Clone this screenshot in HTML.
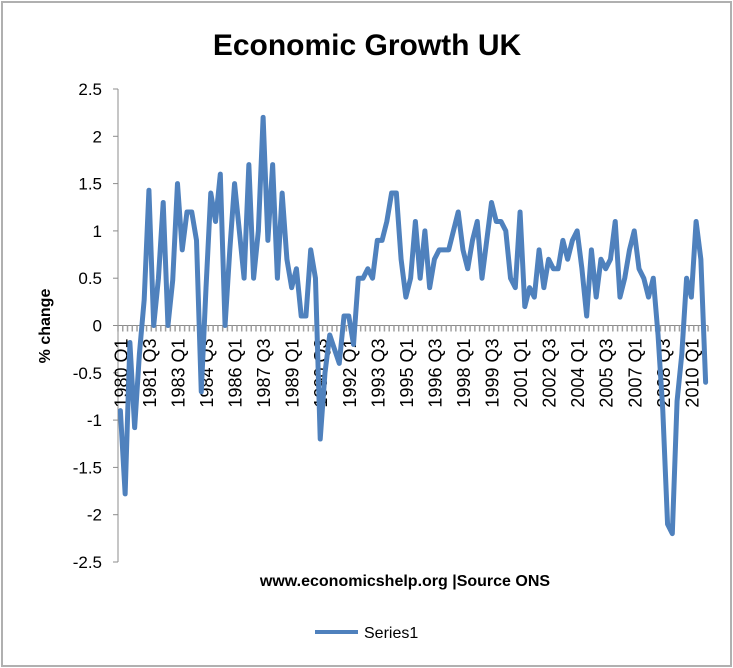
<!DOCTYPE html>
<html><head><meta charset="utf-8"><style>
body{margin:0;background:#fff}
svg{display:block;font-family:"Liberation Sans",Calibri,sans-serif}
</style></head><body>
<svg id="chart" width="733" height="668" viewBox="0 0 733 668" xmlns="http://www.w3.org/2000/svg">
<rect x="2" y="2" width="729" height="664" fill="#fff" stroke="#b0b0b0" stroke-width="2"/>
<text x="367" y="55" text-anchor="middle" font-size="30" font-weight="bold">Economic Growth UK</text>
<text transform="translate(50,326) rotate(-90)" text-anchor="middle" font-size="16" font-weight="bold">% change</text>
<text x="405" y="586" text-anchor="middle" font-size="16" font-weight="bold">www.economicshelp.org |Source ONS</text>
<g id="yaxis"></g><g id="xaxis"></g><g id="series"></g>
<line x1="315" y1="632" x2="358" y2="632" stroke="#4f81bd" stroke-width="4"/>
<text x="364" y="638" font-size="16">Series1</text>
</svg>
<script>
const categories = [];
for (let y = 1980; y <= 2010; y++) for (let q = 1; q <= 4; q++) categories.push(y + " Q" + q);
const values = [
-0.9,-1.78,-0.18,-1.08, -0.3,0.27,1.43,0, 0.5,1.3,0,0.48, 1.5,0.8,1.2,1.2,
0.9,-0.7,0.4,1.4, 1.1,1.6,0,0.8, 1.5,1.0,0.5,1.7, 0.5,1.0,2.2,0.9,
1.7,0.5,1.4,0.7, 0.4,0.6,0.1,0.1, 0.8,0.5,-1.2,-0.5, -0.1,-0.25,-0.4,0.1,
0.1,-0.2,0.5,0.5, 0.6,0.5,0.9,0.9, 1.1,1.4,1.4,0.7, 0.3,0.5,1.1,0.5,
1.0,0.4,0.7,0.8, 0.8,0.8,1.0,1.2, 0.8,0.6,0.9,1.1, 0.5,0.9,1.3,1.1,
1.1,1.0,0.5,0.4, 1.2,0.2,0.4,0.3, 0.8,0.4,0.7,0.6, 0.6,0.9,0.7,0.9,
1.0,0.6,0.1,0.8, 0.3,0.7,0.6,0.7, 1.1,0.3,0.5,0.8, 1.0,0.6,0.5,0.3,
0.5,-0.1,-0.9,-2.1, -2.2,-0.8,-0.3,0.5, 0.3,1.1,0.7,-0.6];
const yTicks = [2.5,2,1.5,1,0.5,0,-0.5,-1,-1.5,-2,-2.5];
const NS = "http://www.w3.org/2000/svg";
const X0 = 118, X1 = 708, Y0 = 89, Y1 = 562, YMAX = 2.5, YMIN = -2.5;
const n = values.length;
const xs = i => X0 + (X1 - X0) * (i + 0.5) / n;
const ys = v => Y0 + (YMAX - v) / (YMAX - YMIN) * (Y1 - Y0);
function mk(tag, attrs, parent) { const e = document.createElementNS(NS, tag); for (const k in attrs) e.setAttribute(k, attrs[k]); parent.appendChild(e); return e; }
const ya = document.getElementById("yaxis");
let l = mk("line", {x1:X0, y1:Y0, x2:X0, y2:Y1, stroke:"#8c8c8c", "stroke-width":1}, ya);


yTicks.forEach(v => {
  const t = mk("line", {x1:X0-5, y1:ys(v), x2:X0, y2:ys(v), stroke:"#8c8c8c", "stroke-width":1}, ya);
  
  
  const tx = mk("text", {x:X0-16, y:ys(v)+6, "text-anchor":"end", "font-size":17}, ya);
  tx.textContent = v;
  
  
});
const xa = document.getElementById("xaxis");
const zl = mk("line", {x1:X0, y1:ys(0), x2:X1, y2:ys(0), stroke:"#8c8c8c", "stroke-width":1}, xa);


for (let i = 0; i <= n; i++) {
  const x = X0 + (X1 - X0) * i / n;
  const t = mk("line", {x1:x, y1:ys(0), x2:x, y2:ys(0)+6, stroke:"#a0a0a0", "stroke-width":1.5}, xa);
  
  
}
for (let i = 0; i < n; i += 6) {
  const x = xs(i) + 7, y = ys(0) + 13;
  const tx = mk("text", {transform:"translate(" + x + "," + y + ") rotate(-90)", "text-anchor":"end", "font-size":18}, xa);
  tx.textContent = categories[i];
  
  
}
const sg = document.getElementById("series");
const pts = values.map((v, i) => xs(i).toFixed(2) + "," + ys(v).toFixed(2)).join(" ");
const pl = mk("polyline", {points:pts, fill:"none", stroke:"#4f81bd", "stroke-width":5, "stroke-linejoin":"round", "stroke-linecap":"round"}, sg);


</script>
</body></html>
